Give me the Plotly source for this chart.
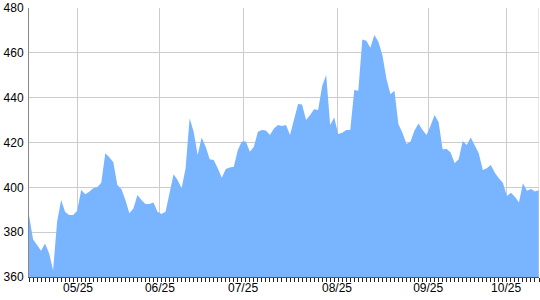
import plotly.graph_objects as go

values = [
    387.7, 376.8, 374.3, 371.7, 375.0, 370.6, 363.0, 384.7, 394.3, 389.0,
    387.7, 387.7, 389.6, 398.8, 396.9, 398.0, 399.6, 400.0, 402.0, 415.2,
    413.4, 411.2, 401.0, 399.3, 394.3, 388.4, 390.6, 396.6, 394.3, 392.6,
    392.6, 393.2, 389.1, 388.1, 389.1, 397.3, 405.8, 403.3, 399.6, 408.5,
    430.8, 424.8, 414.4, 422.2, 418.1, 412.5, 412.2, 408.5, 404.3, 408.2,
    408.9, 409.2, 416.7, 420.4, 420.4, 415.9, 418.1, 424.8, 425.6, 425.3,
    423.3, 426.3, 427.8, 427.4, 427.8, 423.3, 430.0, 437.2, 437.0, 430.0,
    432.3, 434.8, 434.5, 445.2, 450.1, 427.8, 431.2, 423.8, 424.4, 425.6,
    425.6, 443.4, 443.1, 466.0, 465.4, 462.3, 468.0, 465.0, 459.0, 448.6,
    441.5, 443.1, 428.1, 424.4, 419.3, 420.4, 425.3, 428.5, 425.6, 423.3,
    427.5, 432.3, 429.0, 417.0, 417.1, 415.5, 410.7, 412.5, 420.7, 418.9,
    422.2, 418.4, 415.2, 407.7, 408.5, 410.0, 406.5, 404.0, 402.1, 396.1,
    397.6, 395.8, 393.2, 401.8, 398.5, 399.3, 398.1, 398.8,
]
tick_labels = ["05/25", "06/25", "07/25", "08/25", "09/25", "10/25"]
tick_positions = [12.2, 32.6, 53.3, 76.7, 99.4, 118.8]

x = list(range(len(values)))

fig = go.Figure()
fig.add_trace(go.Scatter(
    x=x, y=values, mode="lines",
    line=dict(color="#78b4ff", width=0),
    fill="tozeroy", fillcolor="#78b4ff",
    hoverinfo="skip",
))

fig.update_layout(
    width=540, height=300,
    margin=dict(l=29, r=1, t=8, b=23),
    paper_bgcolor="white", plot_bgcolor="white",
    showlegend=False,
    font=dict(family="Liberation Sans, Arial, sans-serif", size=12, color="#000"),
    xaxis=dict(
        range=[0, len(values) - 1],
        tickmode="array", tickvals=tick_positions, ticktext=tick_labels,
        showgrid=True, gridcolor="#cccccc", gridwidth=1,
        ticks="", showline=True, linecolor="#555555", linewidth=1,
        minor=dict(tickmode="array", tickvals=x, ticks="outside",
                   ticklen=4, tickcolor="#222222", tickwidth=1, showgrid=False),
        zeroline=False, fixedrange=True,
    ),
    yaxis=dict(
        range=[360, 480], dtick=20, tick0=360,
        showgrid=True, gridcolor="#cccccc", gridwidth=1,
        ticks="", showline=True, linecolor="#888888", linewidth=1,
        zeroline=False, ticklabelstandoff=2,
    ),
)
fig.add_shape(type="line", xref="x", yref="paper", x0=len(values) - 1, x1=len(values) - 1,
              y0=0, y1=1, line=dict(color="#cccccc", width=1), layer="above")

fig.write_html("out.html")
